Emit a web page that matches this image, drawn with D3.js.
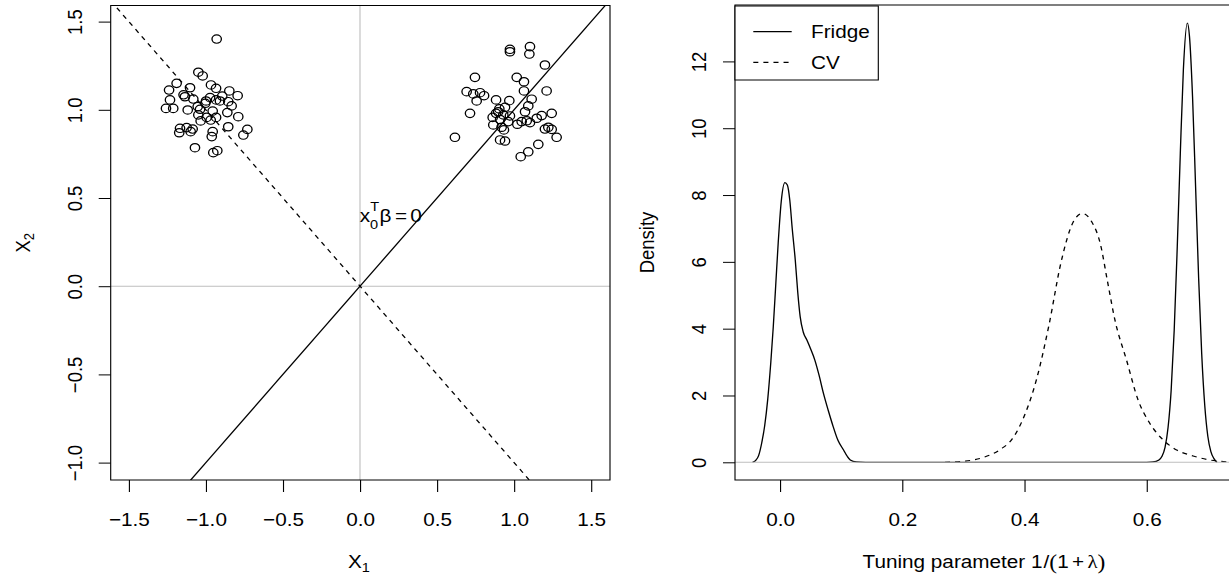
<!DOCTYPE html>
<html>
<head>
<meta charset="utf-8">
<script src="https://cdn.jsdelivr.net/npm/d3@7"></script>
<style>
  body { margin: 0; background: #fff; }
  svg { display: block; }
  text { font-family: "Liberation Sans", Arial, Helvetica, sans-serif; fill: #000; }
</style>
</head>
<body>
<svg id="chart" width="1229" height="575"></svg>
<script>
// ---- Left panel: two point clouds with the two separating directions ----
const leftCloudX1 = [-0.930,-1.049,-1.021,-1.190,-0.967,-1.103,-0.934,-1.239,-0.848,-0.794,-0.894,-1.136,-0.973,-1.082,-0.934,-0.909,-1.233,-0.999,-0.855,-0.833,-1.053,-1.259,-1.212,-1.118,-1.038,-0.956,-0.861,-1.049,-0.995,-0.934,-0.790,-1.034,-0.969,-0.855,-1.168,-1.125,-1.086,-0.731,-1.173,-1.099,-0.956,-0.757,-0.962,-1.071,-0.952,-0.926,-1.145,-1.004];
const leftCloudX2 = [1.401,1.213,1.192,1.150,1.141,1.125,1.122,1.112,1.107,1.080,1.078,1.074,1.069,1.061,1.056,1.050,1.056,1.050,1.046,1.022,1.018,1.008,1.008,0.999,1.003,0.993,0.984,0.971,0.957,0.957,0.961,0.937,0.942,0.904,0.895,0.899,0.891,0.889,0.870,0.876,0.876,0.857,0.848,0.785,0.757,0.768,1.085,1.037];
const rightCloudX1 = [0.973,0.973,1.103,1.099,1.200,0.746,1.017,1.064,1.211,0.692,0.735,0.779,0.805,1.064,0.757,0.883,0.969,1.114,1.092,0.904,0.941,0.714,1.071,0.883,0.930,0.973,1.179,1.244,0.909,1.147,1.049,1.082,1.103,0.865,1.021,0.919,0.934,1.222,1.244,1.200,0.616,1.276,0.909,0.941,1.157,1.092,1.043,0.861,0.962,0.897];
const rightCloudX2 = [1.343,1.329,1.358,1.316,1.254,1.184,1.184,1.159,1.107,1.103,1.090,1.097,1.080,1.107,1.050,1.056,1.052,1.060,1.022,1.005,1.014,0.980,0.989,0.980,0.971,0.965,0.967,0.980,0.945,0.952,0.933,0.938,0.927,0.914,0.918,0.901,0.886,0.901,0.889,0.891,0.844,0.844,0.829,0.823,0.804,0.762,0.734,0.957,0.933,0.989];
const lineSlopes = [1, -1];          // solid: x2 = x1, dashed: x2 = -x1
const lineDashed = [false, true];
const leftXTicks = [-1.5, -1.0, -0.5, 0.0, 0.5, 1.0, 1.5];
const leftYTicks = [-1.0, -0.5, 0.0, 0.5, 1.0, 1.5];

// ---- Right panel: densities of the selected tuning parameter ----
const fridgeT = [-0.045,-0.040,-0.035,-0.030,-0.025,-0.020,-0.015,-0.011,-0.007,-0.003,0.002,0.008,0.012,0.016,0.020,0.025,0.029,0.033,0.038,0.044,0.050,0.057,0.064,0.071,0.079,0.087,0.095,0.104,0.110,0.115,0.125,0.140,0.200,0.300,0.400,0.500,0.560,0.600,0.610,0.620,0.625,0.630,0.635,0.640,0.645,0.650,0.655,0.660,0.6665,0.670,0.675,0.680,0.685,0.690,0.695,0.700,0.705,0.710,0.715];
const fridgeDensity = [0.00,0.05,0.20,0.57,1.10,1.90,3.00,4.06,5.30,6.55,7.80,8.37,8.30,7.85,7.00,6.05,5.10,4.36,3.90,3.66,3.40,3.06,2.60,2.07,1.55,1.07,0.65,0.37,0.18,0.07,0.01,0.00,0.00,0.00,0.00,0.00,0.00,0.00,0.01,0.07,0.18,0.45,1.05,2.15,3.95,6.45,9.25,11.75,13.15,12.75,10.95,8.25,5.50,3.25,1.70,0.78,0.32,0.11,0.00];
const cvT = [0.270,0.300,0.330,0.360,0.380,0.400,0.420,0.440,0.460,0.480,0.495,0.510,0.524,0.536,0.548,0.567,0.586,0.605,0.627,0.649,0.676,0.700,0.720,0.740];
const cvDensity = [0.00,0.03,0.13,0.38,0.70,1.40,2.50,4.10,6.00,7.20,7.45,7.20,6.55,5.40,4.26,3.06,1.86,1.17,0.67,0.37,0.19,0.08,0.03,0.01];
const rightXTicks = [0.0, 0.2, 0.4, 0.6];
const rightYTicks = [0, 2, 4, 6, 8, 10, 12];
const legendLabels = ["Fridge", "CV"];

// ---- layout ----
const SX = 1.12;                 // horizontal stretch of the whole figure
const sx = v => v / SX;          // page px -> drawing units
const FS = 18.5;                 // base font size
const DASH = "4.5,4.5";
const LW = 1.2;

const svg = d3.select("#chart");
const root = svg.append("g").attr("transform", `scale(${SX},1)`);

const PL = { left: sx(110.7), right: sx(610), top: 5.5, bottom: 480 };
const PR = { left: sx(735), right: sx(1233), top: 5, bottom: 480 };

const xL = d3.scaleLinear().domain([-1.5, 1.5]).range([sx(128.85), sx(591.15)]);
const yL = d3.scaleLinear().domain([-1, 1.5]).range([462.6, 21.6]);
const xR = d3.scaleLinear().domain([0, 0.6]).range([sx(780), sx(1146.7)]);
const yR = d3.scaleLinear().domain([0, 12]).range([462.3, 61.4]);

const defs = svg.append("defs");
function clip(id, P) {
  defs.append("clipPath").attr("id", id).append("rect")
    .attr("x", P.left).attr("y", P.top)
    .attr("width", P.right - P.left).attr("height", P.bottom - P.top);
}
clip("clipL", PL);
clip("clipR", PR);

function axes(P, x, y, xt, yt, xfmt, yfmt) {
  const gx = root.append("g").attr("transform", `translate(0,${P.bottom})`)
    .call(d3.axisBottom(x).tickValues(xt).tickSize(12).tickSizeOuter(0).tickFormat(xfmt));
  gx.attr("font-size", null).attr("font-family", null);
  gx.select(".domain").remove();
  gx.selectAll(".tick line").attr("stroke", "#000").attr("stroke-width", 1);
  gx.selectAll(".tick text").attr("y", 46).attr("dy", null)
    .style("font-size", FS + "px").attr("fill", "#000");

  const gy = root.append("g").attr("transform", `translate(${P.left},0)`)
    .call(d3.axisLeft(y).tickValues(yt).tickSize(sx(12)).tickSizeOuter(0).tickFormat(yfmt));
  gy.attr("font-size", null).attr("font-family", null);
  gy.select(".domain").remove();
  gy.selectAll(".tick line").attr("stroke", "#000").attr("stroke-width", 1);
  gy.selectAll(".tick text").attr("x", 0).attr("dy", null)
    .attr("text-anchor", "middle")
    .attr("transform", `translate(${-sx(28.7)},0) rotate(-90)`)
    .style("font-size", FS + "px").attr("fill", "#000");
}

function frame(P) {
  root.append("rect").attr("x", P.left).attr("y", P.top)
    .attr("width", P.right - P.left).attr("height", P.bottom - P.top)
    .attr("fill", "none").attr("stroke", "#000").attr("stroke-width", 1);
}

// ================= Left panel =================
const gL = root.append("g").attr("clip-path", "url(#clipL)");
const [xd0, xd1] = [xL.invert(PL.left), xL.invert(PL.right)];

// reference axes through the origin
gL.append("line").attr("x1", xL(0)).attr("x2", xL(0)).attr("y1", PL.top).attr("y2", PL.bottom)
  .attr("stroke", "#bebebe").attr("stroke-width", 1);
gL.append("line").attr("x1", PL.left).attr("x2", PL.right).attr("y1", yL(0)).attr("y2", yL(0))
  .attr("stroke", "#bebebe").attr("stroke-width", 1);

// lines through the origin
lineSlopes.forEach((b, i) => {
  gL.append("line")
    .attr("x1", xL(xd0)).attr("y1", yL(b * xd0))
    .attr("x2", xL(xd1)).attr("y2", yL(b * xd1))
    .attr("stroke", "#000").attr("stroke-width", LW)
    .attr("stroke-dasharray", lineDashed[i] ? DASH : null);
});

// observations
const pts = leftCloudX1.map((v, i) => [v, leftCloudX2[i]])
  .concat(rightCloudX1.map((v, i) => [v, rightCloudX2[i]]));
gL.selectAll("circle.pt").data(pts).join("circle").attr("class", "pt")
  .attr("cx", d => xL(d[0])).attr("cy", d => yL(d[1])).attr("r", 4.2)
  .attr("fill", "none").attr("stroke", "#000").attr("stroke-width", LW);

// annotation  x_0^T beta = 0
const ann = root.append("text")
  .attr("x", xL(0.2)).attr("y", 221.7).attr("text-anchor", "middle")
  .style("font-size", FS + "px");
ann.append("tspan").text("x");
ann.append("tspan").attr("dy", 7).style("font-size", "13px").text("0");
ann.append("tspan").attr("dx", -7.2).attr("dy", -18).style("font-size", "13px").text("T");
ann.append("tspan").attr("dy", 11).attr("dx", 0.5).text("\u03b2");
ann.append("tspan").attr("dx", 3).text("=");
ann.append("tspan").attr("dx", 3).text("0");

axes(PL, xL, yL, leftXTicks, leftYTicks, d3.format(".1f"), d3.format(".1f"));
frame(PL);

// axis titles
const t1 = root.append("text").attr("x", sx(359)).attr("y", 568).attr("text-anchor", "middle")
  .style("font-size", FS + "px");
t1.append("tspan").text("X");
t1.append("tspan").attr("dy", 4).style("font-size", "13px").text("1");

const t2 = root.append("text").attr("text-anchor", "middle")
  .attr("transform", `translate(${sx(29.5)},${(PL.top + PL.bottom) / 2}) rotate(-90)`)
  .style("font-size", FS + "px");
t2.append("tspan").text("X");
t2.append("tspan").attr("dy", 4).style("font-size", "13px").text("2");

// ================= Right panel =================
const gR = root.append("g").attr("clip-path", "url(#clipR)");
const dens = d3.line().x(d => xR(d[0])).y(d => yR(d[1])).curve(d3.curveMonotoneX);

gR.append("path").datum(fridgeT.map((t, i) => [t, fridgeDensity[i]]))
  .attr("d", dens).attr("fill", "none").attr("stroke", "#000").attr("stroke-width", LW);
gR.append("path").datum(cvT.map((t, i) => [t, cvDensity[i]]))
  .attr("d", dens).attr("fill", "none").attr("stroke", "#000").attr("stroke-width", LW)
  .attr("stroke-dasharray", DASH);
gR.append("line").attr("x1", PR.left).attr("x2", PR.right).attr("y1", yR(0)).attr("y2", yR(0))
  .attr("stroke", "#bebebe").attr("stroke-width", 1);

axes(PR, xR, yR, rightXTicks, rightYTicks, d3.format(".1f"), d3.format("d"));
frame(PR);

// legend
const lg = root.append("g");
lg.append("rect").attr("x", PR.left).attr("y", 6)
  .attr("width", sx(878.3) - PR.left).attr("height", 74)
  .attr("fill", "#fff").attr("stroke", "#000").attr("stroke-width", 1);
legendLabels.forEach((lab, i) => {
  const yy = 31.7 + i * 30.6;
  lg.append("line").attr("x1", sx(753.3)).attr("x2", sx(791.7)).attr("y1", yy).attr("y2", yy)
    .attr("stroke", "#000").attr("stroke-width", LW)
    .attr("stroke-dasharray", i === 1 ? DASH : null);
  lg.append("text").attr("x", sx(811)).attr("y", yy + 6.6)
    .style("font-size", FS + "px").text(lab);
});

// axis titles
root.append("text").attr("text-anchor", "middle")
  .attr("transform", `translate(${sx(653.8)},${(PR.top + PR.bottom) / 2}) rotate(-90)`)
  .style("font-size", FS + "px").text("Density");

const t3 = root.append("text").attr("x", sx(984)).attr("y", 568).attr("text-anchor", "middle")
  .style("font-size", FS + "px");
t3.append("tspan").text("Tuning parameter 1");
t3.append("tspan").attr("dx", 1).text("/");
t3.append("tspan").style("font-family", "'Liberation Serif', serif").style("font-size", "21px").attr("dy", 1).text("(");
t3.append("tspan").attr("dy", -1).text("1");
t3.append("tspan").attr("dx", 3).text("+");
t3.append("tspan").attr("dx", 3).style("font-family", "'Liberation Serif', serif").text("\u03bb");
t3.append("tspan").style("font-family", "'Liberation Serif', serif").style("font-size", "21px").attr("dy", 1).text(")");
</script>
</body>
</html>
